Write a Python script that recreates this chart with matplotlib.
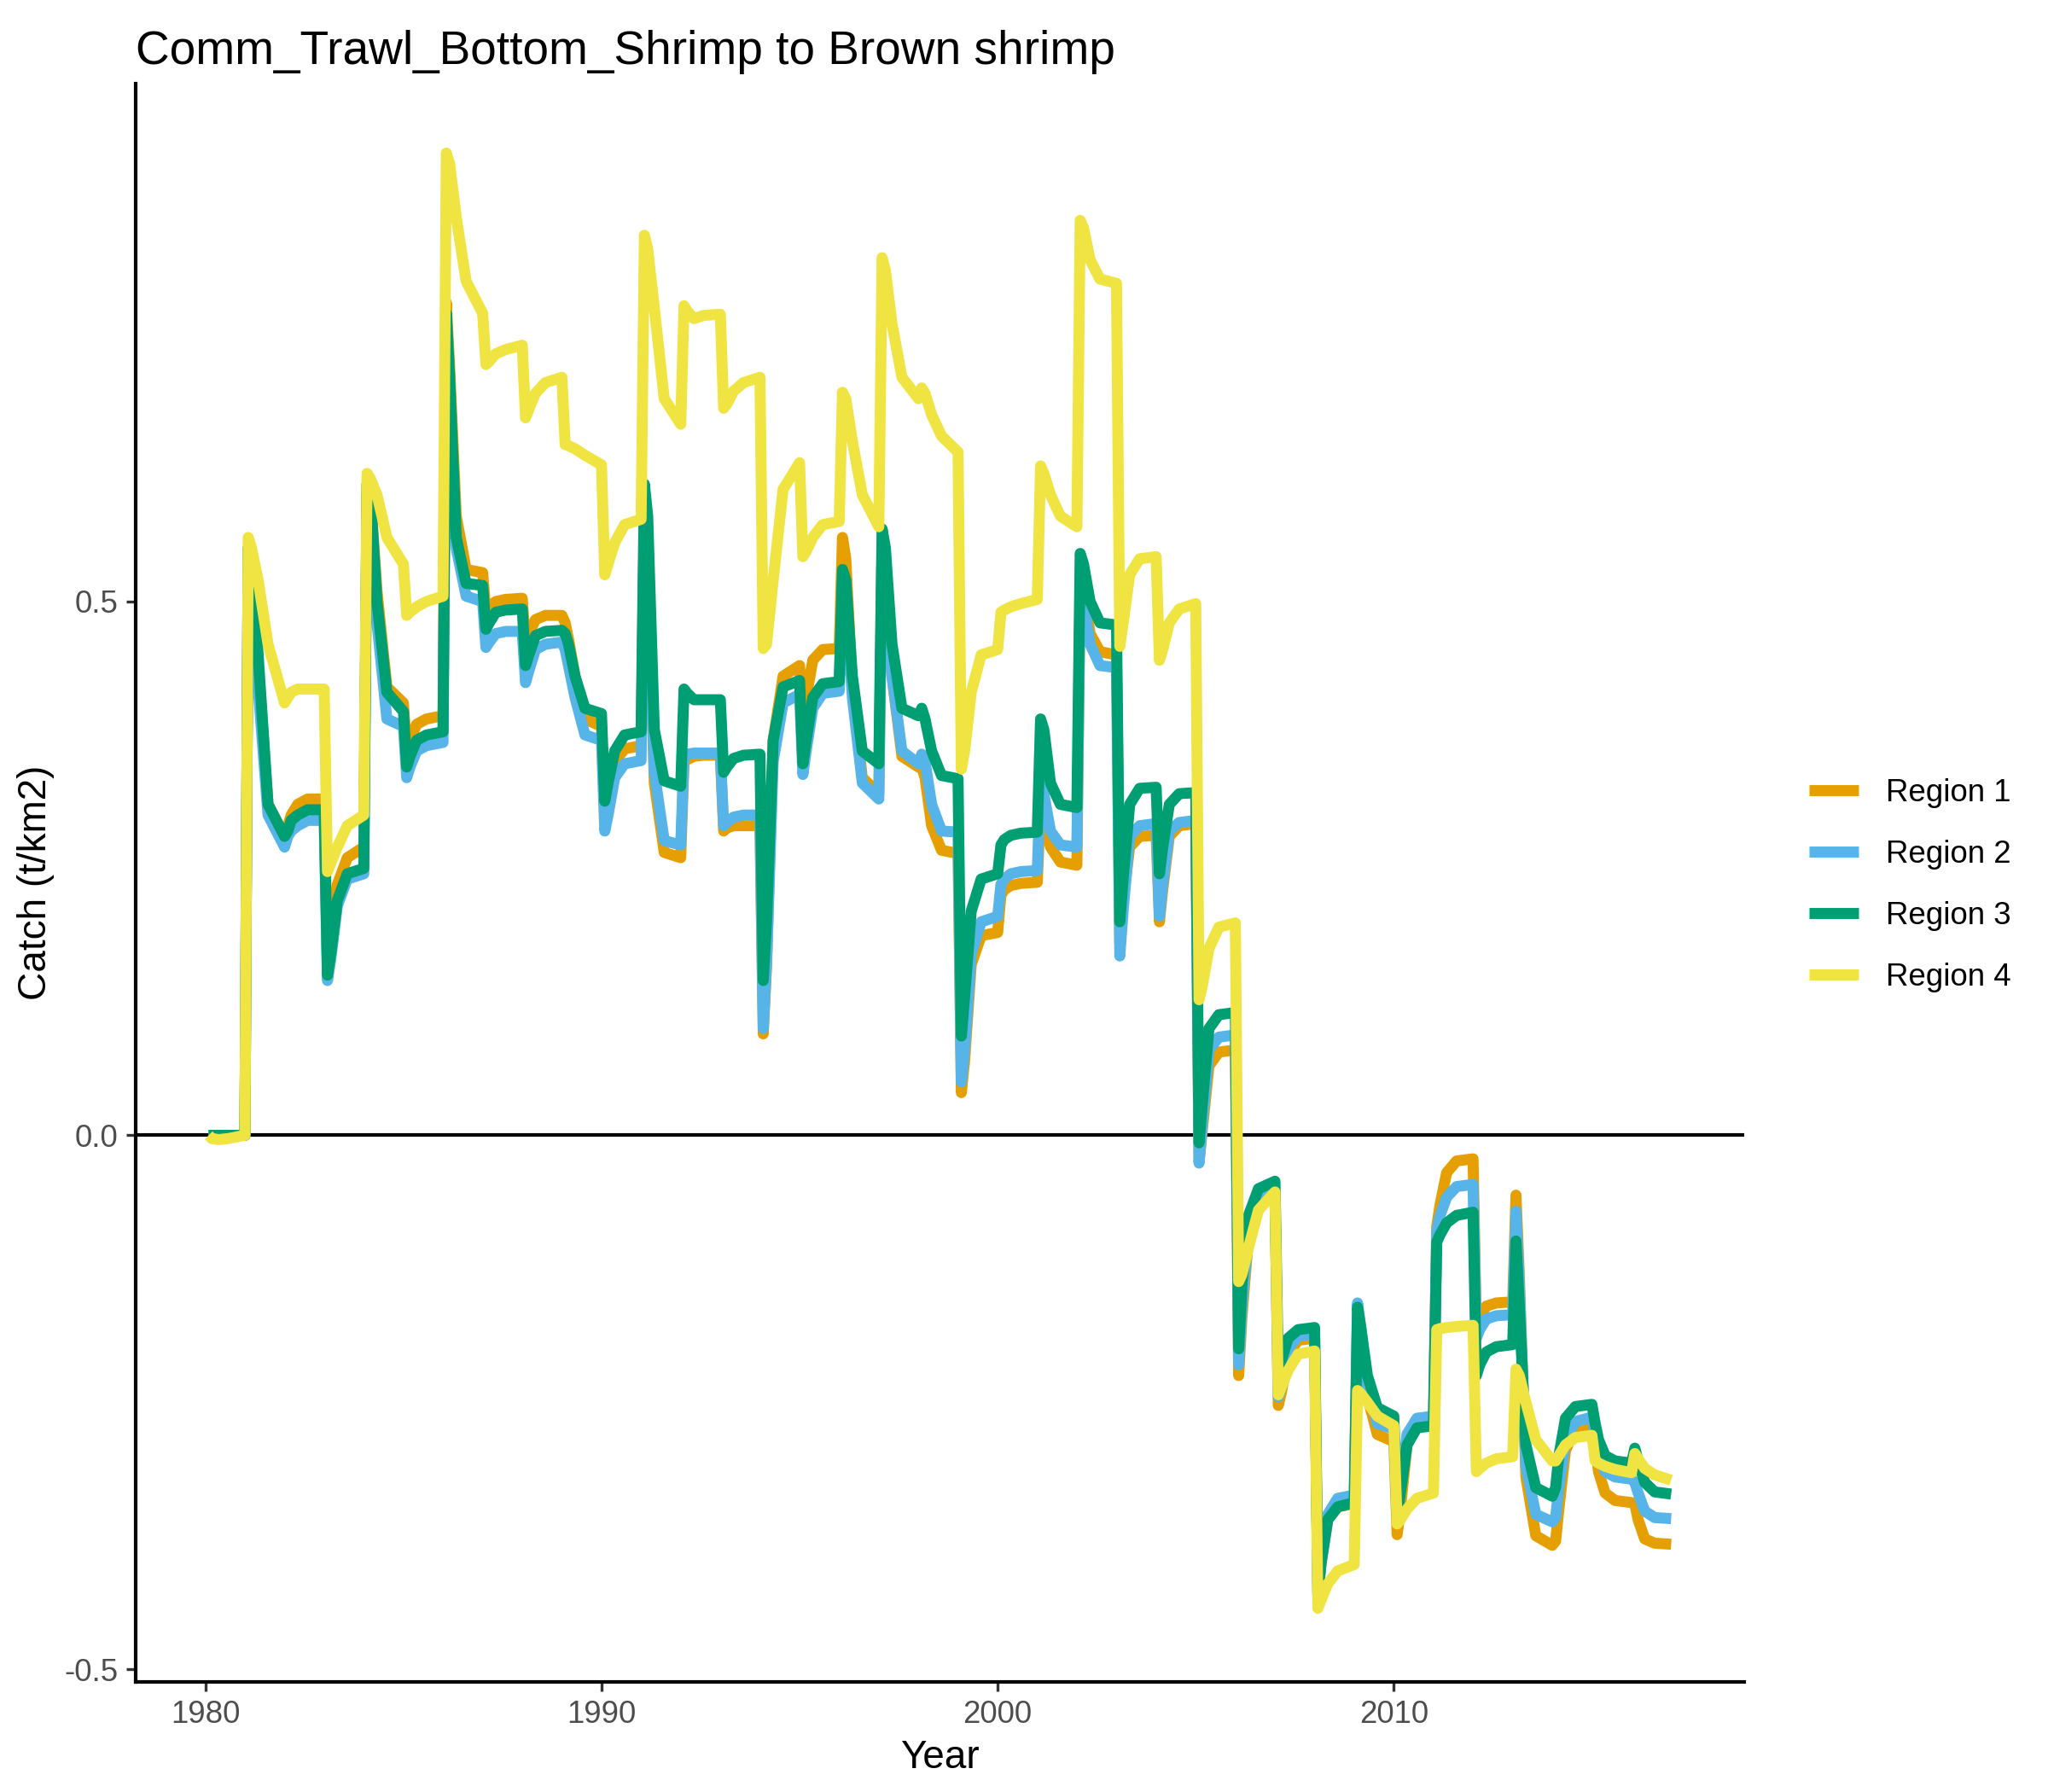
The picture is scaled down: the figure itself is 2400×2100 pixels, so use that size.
import matplotlib
matplotlib.use("Agg")
import matplotlib.pyplot as plt
import numpy as np

plt.rcParams["font.family"] = ["Liberation Sans", "DejaVu Sans"]

years = list(range(1980, 2017))
# months sampled in every year (Jan, Feb, Apr, Jul, Dec)
months = [1, 2, 4, 7, 12]

region1 = [
    [0, 0, 0, 0, 0],
    [0.55, 0.53, 0.44, 0.31, 0.28],
    [0.29, 0.30, 0.31, 0.315, 0.315],
    [0.16, 0.18, 0.235, 0.26, 0.27],
    [0.61, 0.60, 0.51, 0.42, 0.405],
    [0.36, 0.37, 0.385, 0.39, 0.393],
    [0.78, 0.72, 0.58, 0.53, 0.527],
    [0.49, 0.495, 0.50, 0.502, 0.503],
    [0.46, 0.47, 0.483, 0.487, 0.487],
    [0.48, 0.465, 0.43, 0.39, 0.383],
    [0.30, 0.315, 0.35, 0.362, 0.365],
    [0.58, 0.54, 0.33, 0.265, 0.26],
    [0.35, 0.352, 0.355, 0.356, 0.356],
    [0.285, 0.288, 0.29, 0.29, 0.29],
    [0.095, 0.16, 0.37, 0.43, 0.44],
    [0.39, 0.41, 0.445, 0.455, 0.456],
    [0.56, 0.54, 0.42, 0.335, 0.32],
    [0.55, 0.53, 0.43, 0.355, 0.345],
    [0.345, 0.335, 0.29, 0.267, 0.264],
    [0.04, 0.07, 0.16, 0.187, 0.19],
    [0.225, 0.23, 0.234, 0.236, 0.237],
    [0.31, 0.30, 0.27, 0.256, 0.253],
    [0.52, 0.51, 0.47, 0.453, 0.45],
    [0.18, 0.22, 0.27, 0.28, 0.281],
    [0.20, 0.23, 0.28, 0.29, 0.292],
    [-0.025, 0.005, 0.065, 0.078, 0.08],
    [-0.225, -0.17, -0.095, -0.06, -0.055],
    [-0.253, -0.24, -0.205, -0.192, -0.19],
    [-0.43, -0.40, -0.36, -0.348, -0.345],
    [-0.17, -0.19, -0.245, -0.28, -0.287],
    [-0.374, -0.35, -0.29, -0.27, -0.267],
    [-0.085, -0.065, -0.035, -0.024, -0.022],
    [-0.18, -0.17, -0.16, -0.157, -0.156],
    [-0.056, -0.13, -0.32, -0.375, -0.384],
    [-0.38, -0.35, -0.295, -0.275, -0.272],
    [-0.29, -0.315, -0.335, -0.342, -0.344],
    [-0.345, -0.36, -0.378, -0.382, -0.383],
]

region2 = [
    [0, 0, 0, 0, 0],
    [0.55, 0.52, 0.42, 0.30, 0.27],
    [0.28, 0.285, 0.29, 0.295, 0.295],
    [0.145, 0.165, 0.215, 0.24, 0.245],
    [0.60, 0.59, 0.48, 0.39, 0.383],
    [0.335, 0.345, 0.36, 0.365, 0.368],
    [0.75, 0.69, 0.55, 0.505, 0.50],
    [0.457, 0.462, 0.47, 0.472, 0.472],
    [0.424, 0.435, 0.455, 0.46, 0.462],
    [0.455, 0.44, 0.41, 0.375, 0.37],
    [0.285, 0.30, 0.335, 0.348, 0.351],
    [0.58, 0.54, 0.34, 0.276, 0.272],
    [0.355, 0.357, 0.358, 0.358, 0.358],
    [0.29, 0.293, 0.298, 0.30, 0.30],
    [0.10, 0.16, 0.35, 0.405, 0.413],
    [0.338, 0.36, 0.40, 0.414, 0.416],
    [0.52, 0.50, 0.41, 0.33, 0.315],
    [0.55, 0.53, 0.43, 0.36, 0.348],
    [0.357, 0.35, 0.31, 0.285, 0.284],
    [0.05, 0.08, 0.17, 0.20, 0.205],
    [0.235, 0.24, 0.245, 0.247, 0.248],
    [0.33, 0.32, 0.285, 0.272, 0.27],
    [0.51, 0.50, 0.46, 0.44, 0.438],
    [0.168, 0.21, 0.28, 0.29, 0.292],
    [0.205, 0.235, 0.285, 0.293, 0.295],
    [-0.026, 0.01, 0.08, 0.092, 0.094],
    [-0.215, -0.16, -0.09, -0.058, -0.053],
    [-0.245, -0.235, -0.20, -0.188, -0.186],
    [-0.43, -0.395, -0.355, -0.34, -0.337],
    [-0.157, -0.18, -0.235, -0.27, -0.275],
    [-0.357, -0.33, -0.28, -0.265, -0.263],
    [-0.09, -0.075, -0.058, -0.048, -0.046],
    [-0.19, -0.182, -0.172, -0.169, -0.168],
    [-0.071, -0.14, -0.31, -0.355, -0.362],
    [-0.358, -0.33, -0.285, -0.268, -0.264],
    [-0.28, -0.30, -0.315, -0.32, -0.322],
    [-0.325, -0.335, -0.352, -0.358, -0.359],
]

region3 = [
    [0, 0, 0, 0, 0],
    [0.55, 0.54, 0.45, 0.31, 0.28],
    [0.285, 0.295, 0.30, 0.305, 0.305],
    [0.15, 0.17, 0.22, 0.245, 0.25],
    [0.61, 0.60, 0.50, 0.415, 0.397],
    [0.345, 0.355, 0.37, 0.375, 0.378],
    [0.77, 0.71, 0.56, 0.517, 0.515],
    [0.474, 0.48, 0.49, 0.492, 0.493],
    [0.44, 0.45, 0.468, 0.472, 0.473],
    [0.47, 0.46, 0.43, 0.40, 0.395],
    [0.313, 0.33, 0.36, 0.375, 0.378],
    [0.61, 0.58, 0.38, 0.332, 0.327],
    [0.418, 0.414, 0.408, 0.408, 0.408],
    [0.34, 0.345, 0.353, 0.356, 0.357],
    [0.145, 0.20, 0.37, 0.42, 0.426],
    [0.348, 0.37, 0.41, 0.423, 0.425],
    [0.53, 0.52, 0.43, 0.36, 0.348],
    [0.568, 0.55, 0.46, 0.40, 0.393],
    [0.40, 0.39, 0.36, 0.337, 0.334],
    [0.093, 0.13, 0.21, 0.24, 0.245],
    [0.272, 0.277, 0.281, 0.283, 0.284],
    [0.39, 0.38, 0.33, 0.31, 0.307],
    [0.545, 0.535, 0.50, 0.48, 0.478],
    [0.20, 0.24, 0.31, 0.325, 0.326],
    [0.245, 0.27, 0.31, 0.32, 0.321],
    [-0.007, 0.03, 0.10, 0.113, 0.115],
    [-0.20, -0.14, -0.075, -0.05, -0.043],
    [-0.22, -0.21, -0.19, -0.182, -0.18],
    [-0.43, -0.40, -0.36, -0.348, -0.344],
    [-0.161, -0.18, -0.225, -0.255, -0.263],
    [-0.357, -0.335, -0.29, -0.274, -0.272],
    [-0.10, -0.093, -0.082, -0.075, -0.072],
    [-0.225, -0.215, -0.203, -0.198, -0.196],
    [-0.099, -0.16, -0.29, -0.33, -0.338],
    [-0.33, -0.30, -0.265, -0.254, -0.252],
    [-0.27, -0.285, -0.30, -0.305, -0.307],
    [-0.293, -0.305, -0.325, -0.334, -0.336],
]

region4 = [
    [0, -0.003, -0.004, -0.003, 0],
    [0.56, 0.55, 0.52, 0.46, 0.405],
    [0.41, 0.415, 0.418, 0.418, 0.418],
    [0.247, 0.255, 0.27, 0.29, 0.30],
    [0.62, 0.615, 0.60, 0.56, 0.535],
    [0.487, 0.49, 0.495, 0.50, 0.505],
    [0.92, 0.91, 0.86, 0.80, 0.77],
    [0.722, 0.725, 0.732, 0.736, 0.74],
    [0.672, 0.68, 0.695, 0.705, 0.71],
    [0.647, 0.646, 0.643, 0.637, 0.628],
    [0.525, 0.535, 0.555, 0.572, 0.577],
    [0.843, 0.83, 0.775, 0.69, 0.666],
    [0.777, 0.772, 0.765, 0.768, 0.769],
    [0.681, 0.685, 0.697, 0.705, 0.71],
    [0.456, 0.46, 0.52, 0.605, 0.63],
    [0.542, 0.547, 0.56, 0.572, 0.575],
    [0.696, 0.69, 0.65, 0.60, 0.57],
    [0.822, 0.81, 0.76, 0.71, 0.69],
    [0.70, 0.695, 0.675, 0.655, 0.64],
    [0.343, 0.36, 0.415, 0.45, 0.455],
    [0.49, 0.492, 0.495, 0.498, 0.502],
    [0.627, 0.62, 0.60, 0.58, 0.57],
    [0.857, 0.85, 0.82, 0.802, 0.798],
    [0.458, 0.48, 0.525, 0.54, 0.542],
    [0.445, 0.455, 0.48, 0.493, 0.498],
    [0.127, 0.14, 0.175, 0.195, 0.199],
    [-0.137, -0.13, -0.105, -0.07, -0.053],
    [-0.243, -0.235, -0.22, -0.205, -0.202],
    [-0.443, -0.435, -0.42, -0.408, -0.402],
    [-0.239, -0.242, -0.25, -0.263, -0.272],
    [-0.364, -0.36, -0.35, -0.34, -0.335],
    [-0.182, -0.181, -0.18, -0.179, -0.178],
    [-0.315, -0.312, -0.307, -0.303, -0.301],
    [-0.219, -0.225, -0.25, -0.285, -0.305],
    [-0.305, -0.30, -0.29, -0.283, -0.281],
    [-0.305, -0.307, -0.31, -0.313, -0.316],
    [-0.298, -0.303, -0.312, -0.318, -0.323],
]

labels = ["Region 1", "Region 2", "Region 3", "Region 4"]
colors = ["#E69F00", "#56B4E9", "#009E73", "#F0E442"]

x_ticks = [1980, 1990, 2000, 2010]
y_ticks = [-0.5, 0.0, 0.5]
y_tick_labels = ["-0.5", "0.0", "0.5"]

t = np.array([y + m / 12 for y in years for m in months])

fig = plt.figure(figsize=(8, 7), dpi=300)
ax = fig.add_axes([0.0663, 0.0614, 0.7854, 0.8919])

ax.axhline(0, color="black", lw=1.0, zorder=1)
for vals, lab, col in zip([region1, region2, region3, region4], labels, colors):
    ax.plot(t, np.array(vals).ravel(), color=col, lw=3.1, label=lab,
            solid_joinstyle="round", solid_capstyle="butt", zorder=2)

ax.set_xlim(1978.245, 2018.846)
ax.set_ylim(-0.512, 0.985)
ax.set_xticks(x_ticks)
ax.set_yticks(y_ticks)
ax.set_yticklabels(y_tick_labels)

for s in ["top", "right"]:
    ax.spines[s].set_visible(False)
for s in ["left", "bottom"]:
    ax.spines[s].set_linewidth(1.0)
    ax.spines[s].set_color("black")
ax.tick_params(length=2.75, width=0.8, color="#333333", labelcolor="#4D4D4D",
               labelsize=8.8, pad=2.2)

ax.set_xlabel("Year", fontsize=11, labelpad=2.75)
ax.set_ylabel("Catch (t/km2)", fontsize=11, labelpad=2.75)
ax.set_title("Comm_Trawl_Bottom_Shrimp to Brown shrimp", loc="left",
             fontsize=13.2, pad=5.5)

fig.legend(loc="center left", bbox_to_anchor=(0.8833, 0.506), frameon=False,
           fontsize=8.8, handlelength=1.58, handletextpad=0.87,
           labelspacing=1.01, borderpad=0, borderaxespad=0)
for line in fig.legends[0].get_lines():
    line.set_linewidth(3.1)

fig.savefig("out.png", dpi=300)
